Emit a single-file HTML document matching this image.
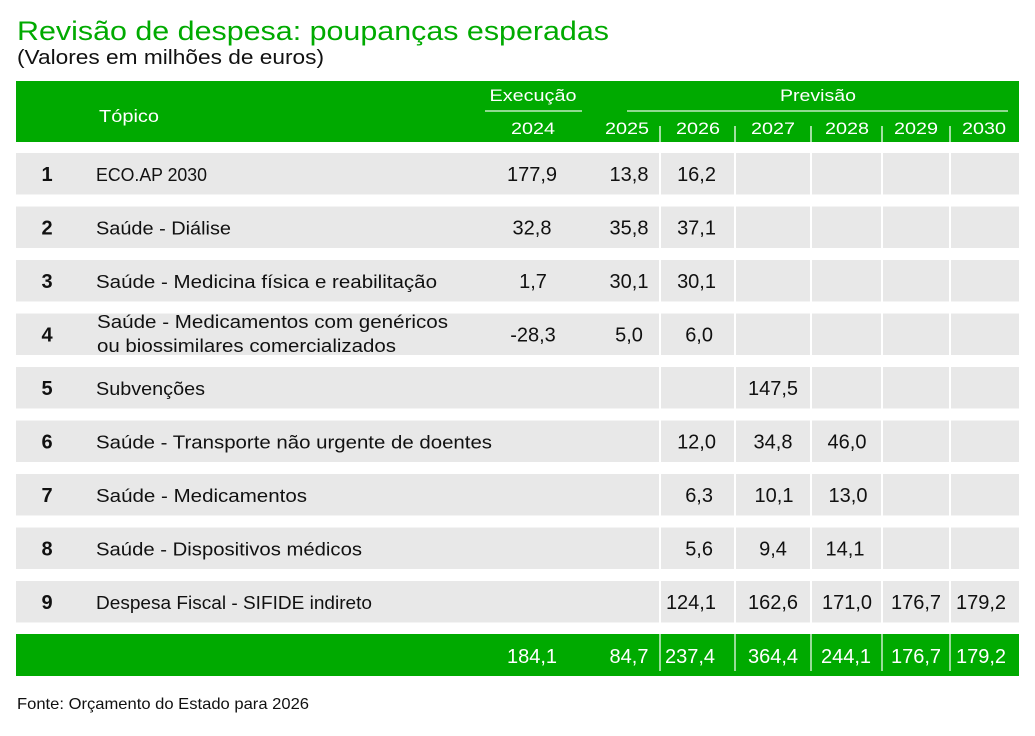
<!DOCTYPE html>
<html><head><meta charset="utf-8"><style>
html,body{margin:0;padding:0;background:#fff;}
svg{display:block;}
text{font-family:"Liberation Sans",Arial,sans-serif;}
</style></head><body>
<svg width="1035" height="736" viewBox="0 0 1035 736" xmlns="http://www.w3.org/2000/svg">
<rect width="1035" height="736" fill="#fff"/>
<!-- Title -->
<text x="17" y="40" font-size="27" fill="#00aa00" textLength="592" lengthAdjust="spacingAndGlyphs">Revisão de despesa: poupanças esperadas</text>
<text x="17" y="64" font-size="20.5" fill="#111" textLength="307" lengthAdjust="spacingAndGlyphs">(Valores em milhões de euros)</text>

<!-- Header -->
<rect x="16" y="81" width="1003" height="61" fill="#00aa00"/>
<g fill="#fff">
<text x="99" y="122" font-size="17.5" textLength="60" lengthAdjust="spacingAndGlyphs">Tópico</text>
<text x="533" y="101" font-size="16.5" text-anchor="middle" textLength="87" lengthAdjust="spacingAndGlyphs">Execução</text>
<text x="818" y="101" font-size="16.5" text-anchor="middle" textLength="76" lengthAdjust="spacingAndGlyphs">Previsão</text>
<g font-size="17" text-anchor="middle">
<text x="533" y="134" textLength="44" lengthAdjust="spacingAndGlyphs">2024</text>
<text x="627" y="134" textLength="44" lengthAdjust="spacingAndGlyphs">2025</text>
<text x="698" y="134" textLength="44" lengthAdjust="spacingAndGlyphs">2026</text>
<text x="773" y="134" textLength="44" lengthAdjust="spacingAndGlyphs">2027</text>
<text x="847" y="134" textLength="44" lengthAdjust="spacingAndGlyphs">2028</text>
<text x="916" y="134" textLength="44" lengthAdjust="spacingAndGlyphs">2029</text>
<text x="984" y="134" textLength="44" lengthAdjust="spacingAndGlyphs">2030</text>
</g>
</g>
<g stroke="#ffffff" stroke-width="1.2" opacity="0.9">
<line x1="485" y1="111" x2="582" y2="111"/>
<line x1="627" y1="111" x2="1008" y2="111"/>
</g>
<g stroke="#ffffff" stroke-width="1.5" opacity="0.85">
<line x1="660" y1="126" x2="660" y2="142"/>
<line x1="735" y1="126" x2="735" y2="142"/>
<line x1="811" y1="126" x2="811" y2="142"/>
<line x1="882" y1="126" x2="882" y2="142"/>
<line x1="950" y1="126" x2="950" y2="142"/>
</g>

<!-- Body rows -->
<g fill="#e8e8e8">
<rect x="16" y="153" width="1003" height="41.5"/>
<rect x="16" y="206.5" width="1003" height="41.5"/>
<rect x="16" y="260" width="1003" height="41.5"/>
<rect x="16" y="313.5" width="1003" height="41.5"/>
<rect x="16" y="367" width="1003" height="41.5"/>
<rect x="16" y="420.5" width="1003" height="41.5"/>
<rect x="16" y="474" width="1003" height="41.5"/>
<rect x="16" y="527.5" width="1003" height="41.5"/>
<rect x="16" y="581" width="1003" height="41.5"/>
</g>
<g fill="#fff">
<rect x="659" y="150" width="2" height="475"/>
<rect x="734" y="150" width="2" height="475"/>
<rect x="810" y="150" width="2" height="475"/>
<rect x="881" y="150" width="2" height="475"/>
<rect x="949" y="150" width="2" height="475"/>
</g>

<!-- Row index numbers -->
<g font-size="20" font-weight="bold" fill="#111" text-anchor="middle">
<text x="47" y="181">1</text>
<text x="47" y="234.5">2</text>
<text x="47" y="288">3</text>
<text x="47" y="341.5">4</text>
<text x="47" y="395">5</text>
<text x="47" y="448.5">6</text>
<text x="47" y="502">7</text>
<text x="47" y="555.5">8</text>
<text x="47" y="609">9</text>
</g>

<!-- Topics -->
<g font-size="18.5" fill="#111">
<text x="96" y="181" textLength="111" lengthAdjust="spacingAndGlyphs">ECO.AP 2030</text>
<text x="96" y="234.5" textLength="135" lengthAdjust="spacingAndGlyphs">Saúde - Diálise</text>
<text x="96" y="288" textLength="341" lengthAdjust="spacingAndGlyphs">Saúde - Medicina física e reabilitação</text>
<text x="97" y="328" textLength="351" lengthAdjust="spacingAndGlyphs">Saúde - Medicamentos com genéricos</text>
<text x="97" y="352" textLength="299" lengthAdjust="spacingAndGlyphs">ou biossimilares comercializados</text>
<text x="96" y="395" textLength="109" lengthAdjust="spacingAndGlyphs">Subvenções</text>
<text x="96" y="448.5" textLength="396" lengthAdjust="spacingAndGlyphs">Saúde - Transporte não urgente de doentes</text>
<text x="96" y="502" textLength="211" lengthAdjust="spacingAndGlyphs">Saúde - Medicamentos</text>
<text x="96" y="555.5" textLength="266" lengthAdjust="spacingAndGlyphs">Saúde - Dispositivos médicos</text>
<text x="96" y="609" textLength="276" lengthAdjust="spacingAndGlyphs">Despesa Fiscal - SIFIDE indireto</text>
</g>

<!-- Values -->
<g font-size="20" fill="#111">
<g text-anchor="middle">
<text x="532" y="181">177,9</text>
<text x="532" y="234.5">32,8</text>
<text x="533" y="288">1,7</text>
<text x="533" y="341.5">-28,3</text>
<text x="629" y="181">13,8</text>
<text x="629" y="234.5">35,8</text>
<text x="629" y="288">30,1</text>
<text x="629" y="341.5">5,0</text>
<text x="773" y="395">147,5</text>
<text x="773" y="448.5">34,8</text>
<text x="774" y="502">10,1</text>
<text x="773" y="555.5">9,4</text>
<text x="773" y="609">162,6</text>
<text x="847" y="448.5">46,0</text>
<text x="848" y="502">13,0</text>
<text x="845" y="555.5">14,1</text>
<text x="847" y="609">171,0</text>
<text x="916" y="609">176,7</text>
<text x="981" y="609">179,2</text>
</g>
<g text-anchor="end">
<text x="716" y="181">16,2</text>
<text x="716" y="234.5">37,1</text>
<text x="716" y="288">30,1</text>
<text x="713" y="341.5">6,0</text>
<text x="716" y="448.5">12,0</text>
<text x="713" y="502">6,3</text>
<text x="713" y="555.5">5,6</text>
<text x="716" y="609">124,1</text>
</g>
</g>

<!-- Total row -->
<rect x="16" y="634" width="1003" height="42" fill="#00aa00"/>
<g stroke="#ffffff" stroke-width="1.5" opacity="0.8">
<line x1="660" y1="634" x2="660" y2="671"/>
<line x1="735" y1="634" x2="735" y2="671"/>
<line x1="811" y1="634" x2="811" y2="671"/>
<line x1="882" y1="634" x2="882" y2="671"/>
<line x1="950" y1="634" x2="950" y2="671"/>
</g>
<g font-size="20" fill="#fff" text-anchor="middle">
<text x="532" y="663">184,1</text>
<text x="629" y="663">84,7</text>
<text x="690" y="663">237,4</text>
<text x="773" y="663">364,4</text>
<text x="846" y="663">244,1</text>
<text x="916" y="663">176,7</text>
<text x="981" y="663">179,2</text>
</g>

<!-- Footer -->
<text x="17" y="709" font-size="16" fill="#111" textLength="292" lengthAdjust="spacingAndGlyphs">Fonte: Orçamento do Estado para 2026</text>
</svg>
</body></html>
